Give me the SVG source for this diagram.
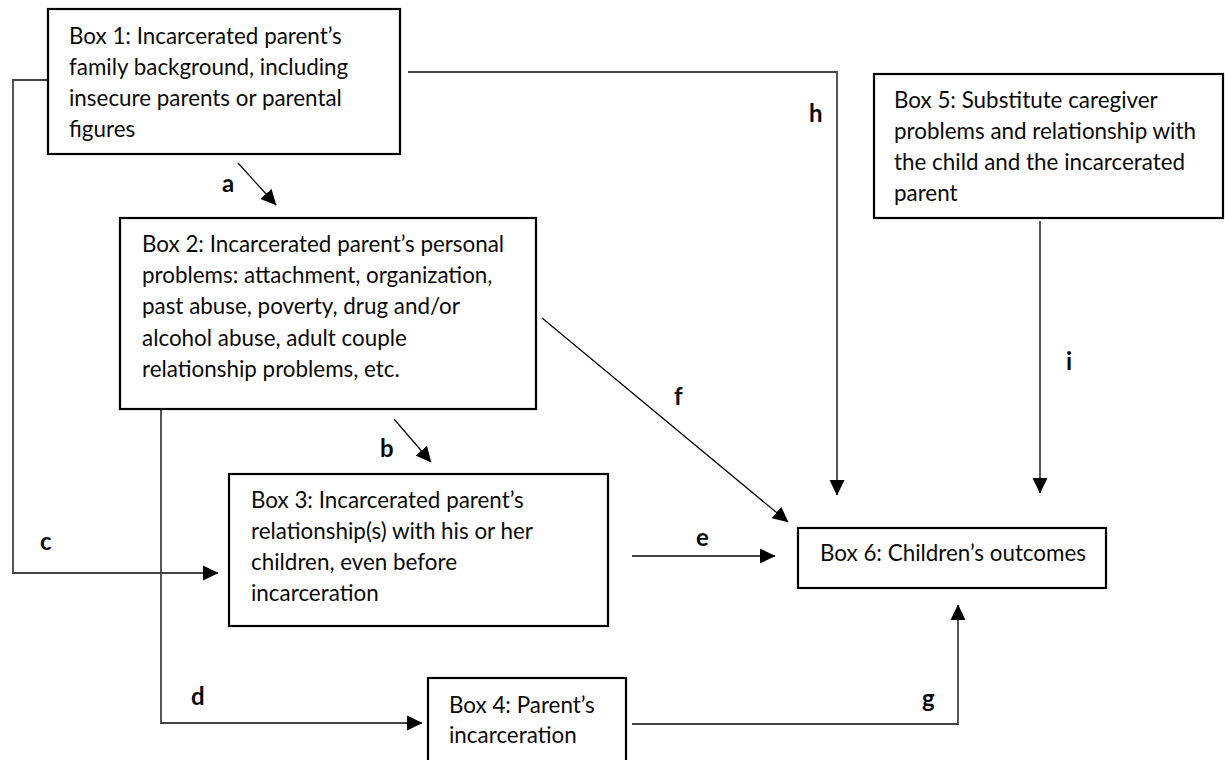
<svg xmlns="http://www.w3.org/2000/svg" width="1225" height="760" viewBox="0 0 1225 760">
  <defs>
    <marker id="head" viewBox="0 0 16 16" refX="15" refY="8" markerWidth="16" markerHeight="16" markerUnits="userSpaceOnUse" orient="auto">
      <path d="M0,0.5 L15.5,8 L0,15.5 z" fill="#000"/>
    </marker>
    <style>
      .box { fill: #fff; stroke: #000; stroke-width: 2.2; }
      .txt { font-family: Lato, "Liberation Sans", sans-serif; font-size: 22.4px; fill: #0a0a0a; }
      .lbl { font-family: Lato, "Liberation Sans", sans-serif; font-size: 24px; font-weight: bold; fill: #0a0a0a; }
      .elbow { fill: none; stroke: #444; stroke-width: 1.8; marker-end: url(#head); }
      .diag { fill: none; stroke: #000; stroke-width: 1.2; marker-end: url(#head); }
    </style>
  </defs>
  <rect width="1225" height="760" fill="#fff"/>

  <!-- connectors -->
  <g id="connectors">
    <line id="edge-a" class="diag" x1="238" y1="163" x2="276" y2="205"/>
    <line id="edge-b" class="diag" x1="394" y1="419" x2="431" y2="462"/>
    <polyline id="edge-c" class="elbow" points="48,80 13,80 13,573 218,573"/>
    <polyline id="edge-d" class="elbow" points="161,410 161,723 422,723"/>
    <line id="edge-e" class="elbow" x1="632" y1="556" x2="775" y2="556"/>
    <line id="edge-f" class="diag" x1="542" y1="318" x2="788" y2="522"/>
    <polyline id="edge-g" class="elbow" points="632,724 958,724 958,605"/>
    <polyline id="edge-h" class="elbow" points="408,72 837,72 837,495"/>
    <line id="edge-i" class="elbow" x1="1040" y1="221" x2="1040" y2="493"/>
    <text class="lbl" x="222" y="192">a</text>
    <text class="lbl" x="380" y="457">b</text>
    <text class="lbl" x="40" y="550">c</text>
    <text class="lbl" x="191" y="705">d</text>
    <text class="lbl" x="696" y="546">e</text>
    <text class="lbl" x="674" y="405">f</text>
    <text class="lbl" x="922" y="707">g</text>
    <text class="lbl" x="809" y="122">h</text>
    <text class="lbl" x="1066" y="370">i</text>
  </g>

  <g id="box1">
    <rect class="box" x="48" y="9" width="352" height="145"/>
    <text class="txt" x="69" y="44">Box 1: Incarcerated parent’s</text>
    <text class="txt" x="69" y="75">family background, including</text>
    <text class="txt" x="69" y="106">insecure parents or parental</text>
    <text class="txt" x="69" y="137">figures</text>
  </g>

  <g id="box2">
    <rect class="box" x="120" y="218" width="416" height="191"/>
    <text class="txt" x="142" y="252">Box 2: Incarcerated parent’s personal</text>
    <text class="txt" x="142" y="283">problems: attachment, organization,</text>
    <text class="txt" x="142" y="314">past abuse, poverty, drug and/or</text>
    <text class="txt" x="142" y="346">alcohol abuse, adult couple</text>
    <text class="txt" x="142" y="377">relationship problems, etc.</text>
  </g>

  <g id="box3">
    <rect class="box" x="229" y="474" width="379" height="152"/>
    <text class="txt" x="251" y="508">Box 3: Incarcerated parent’s</text>
    <text class="txt" x="251" y="539">relationship(s) with his or her</text>
    <text class="txt" x="251" y="570">children, even before</text>
    <text class="txt" x="251" y="601">incarceration</text>
  </g>

  <g id="box4">
    <rect class="box" x="428" y="678" width="198" height="90"/>
    <text class="txt" x="449" y="713">Box 4: Parent’s</text>
    <text class="txt" x="449" y="743">incarceration</text>
  </g>

  <g id="box5">
    <rect class="box" x="874" y="74" width="349" height="144"/>
    <text class="txt" x="894" y="108">Box 5: Substitute caregiver</text>
    <text class="txt" x="894" y="139">problems and relationship with</text>
    <text class="txt" x="894" y="170">the child and the incarcerated</text>
    <text class="txt" x="894" y="201">parent</text>
  </g>

  <g id="box6">
    <rect class="box" x="798" y="528" width="308" height="60"/>
    <text class="txt" x="820" y="561">Box 6: Children’s outcomes</text>
  </g>
</svg>
